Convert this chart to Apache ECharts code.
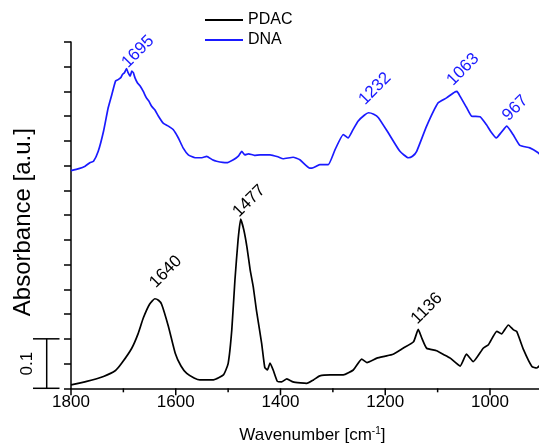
<!DOCTYPE html>
<html><head><meta charset="utf-8">
<script src="https://cdn.jsdelivr.net/npm/echarts@6/dist/echarts.min.js"></script>
<style>html,body{margin:0;padding:0;background:#fff}#c{width:539px;height:446px}</style>
</head><body><div id="c"></div>
<script>
// ---- data (wavenumber in cm^-1, absorbance in a.u., curves offset as in the figure) ----
const pdacWn  = [1800,1770,1738,1715,1703,1684,1672,1662,1650,1640,1633,1627,1614,1601,1590,1579,1565,1554,1528,1509,1500,1493,1487,1481,1476,1470,1464,1458,1452,1446,1436,1430,1425,1420,1414,1406,1398,1388,1376,1362,1350,1337,1325,1305,1280,1261,1245,1235,1216,1200,1185,1166,1146,1137,1130,1121,1102,1088,1076,1057,1045,1032,1013,1003,987,978,965,955,949,936,920,911,904];
const pdacAbs = [0.007,0.014,0.024,0.036,0.051,0.081,0.110,0.142,0.170,0.181,0.178,0.170,0.125,0.071,0.045,0.030,0.021,0.017,0.017,0.027,0.050,0.118,0.219,0.300,0.342,0.320,0.285,0.240,0.205,0.158,0.091,0.042,0.037,0.051,0.037,0.014,0.013,0.019,0.013,0.011,0.010,0.017,0.025,0.027,0.027,0.037,0.059,0.052,0.061,0.065,0.069,0.081,0.094,0.119,0.101,0.081,0.076,0.068,0.061,0.045,0.069,0.054,0.081,0.088,0.115,0.110,0.128,0.118,0.115,0.078,0.044,0.041,0.047];
const dnaWn   = [1800,1785,1773,1764,1757,1748,1738,1729,1722,1715,1710,1705,1702,1698,1694,1691,1687,1684,1681,1678,1673,1668,1662,1656,1651,1646,1640,1633,1624,1614,1605,1595,1586,1576,1563,1550,1541,1530,1522,1503,1490,1480,1474,1468,1461,1450,1439,1420,1405,1395,1376,1363,1344,1340,1325,1309,1296,1280,1271,1262,1252,1240,1232,1222,1213,1194,1172,1156,1148,1140,1121,1099,1083,1067,1063,1057,1045,1035,1019,1007,998,988,978,968,956,943,924,908,900];
const dnaAbs  = [0.440,0.444,0.449,0.456,0.459,0.479,0.519,0.567,0.594,0.621,0.624,0.628,0.634,0.638,0.646,0.638,0.631,0.641,0.638,0.628,0.617,0.611,0.600,0.587,0.580,0.570,0.563,0.550,0.536,0.530,0.523,0.506,0.486,0.472,0.466,0.466,0.469,0.462,0.459,0.456,0.462,0.470,0.479,0.472,0.474,0.471,0.472,0.472,0.468,0.464,0.467,0.462,0.445,0.445,0.452,0.452,0.482,0.513,0.506,0.522,0.540,0.552,0.557,0.554,0.547,0.516,0.479,0.466,0.469,0.479,0.530,0.577,0.587,0.599,0.600,0.590,0.568,0.550,0.549,0.533,0.518,0.506,0.518,0.530,0.513,0.491,0.486,0.476,0.468];
const pdacPeaks = [1640,1477,1136];
const dnaPeaks  = [1695,1232,1063,967];
const seriesNames = ['PDAC','DNA'];
const xTicks = {min:800, max:1800, interval:200};
const xMinorStep = 100;
const yTicks = {min:0, max:0.7, interval:0.05};
const scaleBarValue = 0.1;

// ---- chart ----
const FONT = '"Liberation Sans", Arial, sans-serif';
const BLUE = '#1a1aff';
// screen offset (px) of each rotated peak label's centre from its peak
const labelShift = {1695:[12,-17],1232:[6.5,-24],1063:[6,-22],967:[8,-18],1640:[11,-27],1477:[9,-18],1136:[8,-21]};
const zip = (a,b) => a.map((x,i)=>[x,b[i]]);
function peakMarks(peaks, wn, ab){
  return peaks.map(p=>{
    let best=0;
    for(let i=0;i<wn.length;i++){ if(Math.abs(wn[i]-p)<Math.abs(wn[best]-p)) best=i; }
    let v=ab[best];
    for(let i=Math.max(0,best-1);i<=Math.min(ab.length-1,best+1);i++) v=Math.max(v,ab[i]);
    const s = labelShift[p] || [8,-21];
    const k = Math.SQRT1_2; // label offset is applied in the rotated (45 deg) frame
    const off = [(s[0]-s[1])*k, (s[0]+s[1])*k];
    return {name:String(p), coord:[p,v], label:{offset:off}};
  });
}
function markPoint(peaks, wn, ab, color){
  return {
    silent:true, symbol:'circle', symbolSize:0, animation:false,
    label:{show:true, formatter:'{b}', position:'inside', align:'center', verticalAlign:'middle',
      rotate:45, color:color, fontSize:17, fontFamily:FONT},
    data: peakMarks(peaks, wn, ab)
  };
}
const ls = () => ({color:'#000', width:1.5});

const chart = echarts.init(document.getElementById('c'), null, {renderer:'canvas'});
chart.setOption({
  animation:false,
  backgroundColor:'#fff',
  grid:{left:71, top:42, width:523.75, height:346.3, outerBoundsMode:'none'},
  legend:{
    orient:'vertical', left:205, top:12, padding:0, itemGap:4,
    itemWidth:38, itemHeight:2, icon:'rect',
    textStyle:{fontFamily:FONT, fontSize:16, color:'#000', lineHeight:16},
    data:seriesNames
  },
  xAxis:{
    type:'value', inverse:true, min:xTicks.min, max:xTicks.max, interval:xTicks.interval,
    name:'Wavenumber [cm{sup|-1}]', nameLocation:'middle', nameGap:38,
    nameTextStyle:{fontFamily:FONT, fontSize:17, color:'#000', lineHeight:18, padding:[0,41,0,0],
      rich:{sup:{fontFamily:FONT, fontSize:10, color:'#000', verticalAlign:'top', lineHeight:18}}},
    axisLine:{show:true, onZero:false, lineStyle:ls()},
    axisTick:{show:false},
    splitLine:{show:false},
    axisLabel:{fontFamily:FONT, fontSize:17, color:'#000', margin:6, formatter:v=>String(v)}
  },
  yAxis:{
    type:'value', min:yTicks.min, max:yTicks.max, interval:yTicks.interval,
    name:'Absorbance [a.u.]', nameLocation:'middle', nameGap:36,
    nameTextStyle:{fontFamily:FONT, fontSize:24, color:'#000', padding:[0,14,0,0]},
    axisLine:{show:true, onZero:false, lineStyle:ls()},
    axisTick:{show:true, inside:false, length:7, lineStyle:ls()},
    splitLine:{show:false},
    axisLabel:{show:false}
  },
  series:[
    {name:seriesNames[0], type:'line', symbol:'none', showSymbol:false, smooth:0.15,
     lineStyle:{color:'#000', width:1.7}, itemStyle:{color:'#000'},
     data:zip(pdacWn,pdacAbs), markPoint:markPoint(pdacPeaks,pdacWn,pdacAbs,'#000')},
    {name:seriesNames[1], type:'line', symbol:'none', showSymbol:false, smooth:0.15,
     lineStyle:{color:BLUE, width:1.7}, itemStyle:{color:BLUE},
     data:zip(dnaWn,dnaAbs), markPoint:markPoint(dnaPeaks,dnaWn,dnaAbs,BLUE)}
  ]
});

// x-axis major/minor ticks and the 0.1 a.u. scale bar, placed through the axis scales
const y0 = chart.convertToPixel({yAxisIndex:0}, 0);
const y1 = chart.convertToPixel({yAxisIndex:0}, scaleBarValue);
const g = [];
for (let v = xTicks.min; v <= xTicks.max; v += xMinorStep) {
  const x = chart.convertToPixel({xAxisIndex:0}, v);
  const len = (v - xTicks.min) % xTicks.interval === 0 ? 7 : 4;
  g.push({type:'line', shape:{x1:x, y1:y0, x2:x, y2:y0+len}, style:{stroke:'#000', lineWidth:1.5}});
}
const bx = 46.7, bl = 33, br = 59.5;
g.push(
  {type:'line', shape:{x1:bl,y1:y1,x2:br,y2:y1}, style:{stroke:'#000', lineWidth:1.5}},
  {type:'line', shape:{x1:bl,y1:y0,x2:br,y2:y0}, style:{stroke:'#000', lineWidth:1.5}},
  {type:'line', shape:{x1:bx,y1:y1,x2:bx,y2:y0}, style:{stroke:'#000', lineWidth:1.5}},
  {type:'text', x:27.5, y:(y0+y1)/2, rotation:Math.PI/2,
   style:{text:String(scaleBarValue), align:'center', verticalAlign:'middle', fill:'#000',
          font:'17px ' + FONT}}
);
chart.setOption({graphic:g});
</script></body></html>
